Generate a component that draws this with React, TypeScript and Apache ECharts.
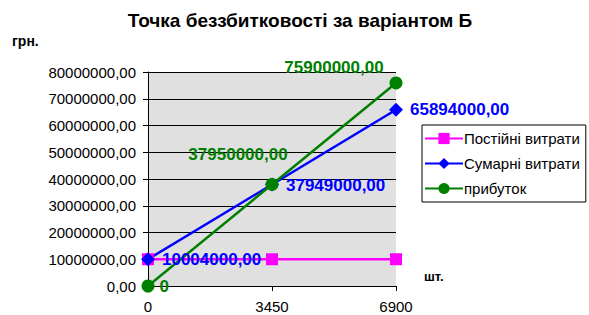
import React, { useEffect, useRef } from "react";
import * as echarts from "echarts";

const categories = ["0", "3450", "6900"];
const fixedCosts = [10004000, 10004000, 10004000];
const totalCosts = [10004000, 37949000, 65894000];
const profit = [0, 37950000, 75900000];
const seriesNames = ["Постійні витрати", "Сумарні витрати", "прибуток"];
const titleText = "Точка беззбитковості за варіантом Б";
const yUnit = "грн.";
const xUnit = "шт.";

const FONT = "'Liberation Sans', Arial, sans-serif";

const fmt = (v: number) => v.toFixed(2).replace(".", ",");

const blueLabelLayout = [
  { position: "right", offset: [2, 0] },
  { position: "right", offset: [2, 1] },
  { position: "right", offset: [2, 0] },
];
const greenLabelLayout = [
  { position: "right", offset: [0, 0] },
  { position: "top", offset: [-34, -10] },
  { position: "top", offset: [-62, 5] },
];

export default function App() {
  const ref = useRef<HTMLDivElement>(null);
  useEffect(() => {
    if (!ref.current) return;
    const chart = echarts.init(ref.current, null, { renderer: "svg" });
    const labelBase = { show: true, fontFamily: FONT, fontSize: 17, fontWeight: "bold" };
    chart.setOption({
      animation: false,
      backgroundColor: "#ffffff",
      textStyle: { fontFamily: FONT },
      graphic: [
        {
          type: "text",
          x: 300,
          y: 11,
          style: {
            text: titleText,
            font: `bold 19px ${FONT}`,
            fill: "#000",
            textAlign: "center",
          },
        },
        {
          type: "text",
          x: 12,
          y: 34,
          style: { text: yUnit, font: `bold 14px ${FONT}`, fill: "#000" },
        },
        {
          type: "text",
          x: 424,
          y: 270,
          style: { text: xUnit, font: `bold 13px ${FONT}`, fill: "#000" },
        },
      ],
      legend: {
        orient: "vertical",
        left: 422,
        top: 125,
        padding: [6, 6, 6, 2],
        itemWidth: 38,
        itemHeight: 14,
        itemGap: 10,
        borderColor: "#000",
        borderWidth: 1,
        backgroundColor: "#fff",
        textStyle: { fontFamily: FONT, fontSize: 15, color: "#000", padding: [0, 0, 0, -4] },
        data: seriesNames,
      },
      grid: {
        left: 148,
        top: 72,
        width: 248,
        height: 214,
        show: true,
        backgroundColor: "#e0e0e0",
        borderWidth: 0,
      },
      xAxis: {
        type: "category",
        data: categories,
        boundaryGap: false,
        axisLine: { lineStyle: { color: "#000", width: 1 } },
        axisTick: { show: true, length: 5, lineStyle: { color: "#000" } },
        axisLabel: { fontFamily: FONT, fontSize: 15, color: "#000", margin: 13 },
        splitLine: { show: false },
      },
      yAxis: {
        type: "value",
        min: 0,
        max: 80000000,
        interval: 10000000,
        axisLine: { show: true, lineStyle: { color: "#000", width: 1 } },
        axisTick: { show: true, length: 5, lineStyle: { color: "#000" } },
        axisLabel: {
          fontFamily: FONT,
          fontSize: 15,
          color: "#000",
          margin: 12,
          formatter: (v: number) => fmt(v),
        },
        splitLine: { show: true, lineStyle: { color: "#000", width: 1 } },
      },
      series: [
        {
          name: seriesNames[0],
          type: "line",
          data: fixedCosts,
          symbol: "rect",
          symbolSize: 12,
          color: "#ff00ff",
          lineStyle: { width: 2.5, color: "#ff00ff" },
          itemStyle: { color: "#ff00ff" },
          label: { show: false },
        },
        {
          name: seriesNames[1],
          type: "line",
          data: totalCosts.map((v, i) => ({
            value: v,
            label: { ...labelBase, color: "#0000ff", ...blueLabelLayout[i] },
          })),
          symbol: "diamond",
          symbolSize: 14,
          color: "#0000ff",
          lineStyle: { width: 2.5, color: "#0000ff" },
          itemStyle: { color: "#0000ff" },
          label: { ...labelBase, color: "#0000ff", formatter: (p: any) => fmt(p.value) },
        },
        {
          name: seriesNames[2],
          type: "line",
          data: profit.map((v, i) => ({
            value: v,
            label: { ...labelBase, color: "#008000", ...greenLabelLayout[i] },
          })),
          symbol: "circle",
          symbolSize: 13,
          color: "#008000",
          lineStyle: { width: 2.5, color: "#008000" },
          itemStyle: { color: "#008000" },
          label: {
            ...labelBase,
            color: "#008000",
            formatter: (p: any) => (p.value === 0 ? "0" : fmt(p.value)),
          },
        },
      ],
    });
    return () => chart.dispose();
  }, []);
  return (
    <div
      ref={ref}
      style={{ position: "fixed", left: 0, top: 0, width: 589, height: 315 }}
    />
  );
}
